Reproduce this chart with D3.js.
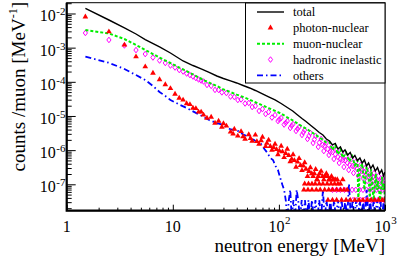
<!DOCTYPE html>
<html>
<head>
<meta charset="utf-8">
<title>neutron energy spectrum</title>
<script src="https://cdn.jsdelivr.net/npm/d3@7"></script>
<style>
  html, body { margin: 0; padding: 0; background: #fff; }
  svg { display: block; font-family: "Liberation Serif", "Times New Roman", serif; }
</style>
</head>
<body>
<svg id="chart"></svg>
<script>
// [neutron energy (MeV), counts/muon (MeV^-1)]
const total = [[1.5,1.42e-2],[2.5,6.45e-3],[3.5,3.77e-3],[4.5,2.51e-3],[5.5,1.73e-3],[7.5,1.05e-3],[9.5,6.98e-4],
  [12.5,4.07e-4],[15.5,3.0e-4],[18.5,2.38e-4],[22,1.88e-4],[26,1.48e-4],[30,1.25e-4],[35,1.06e-4],[40,9.25e-5],
  [46,7.8e-5],[53,6.6e-5],[60,5.57e-5],[70,4.4e-5],[80,3.6e-5],[92,2.94e-5],[105,2.32e-5],[120,1.77e-5],
  [135,1.4e-5],[150,1.07e-5],[165,8.45e-6],[180,6.9e-6],[200,5.27e-6],[220,4.16e-6],[240,3.29e-6],[260,2.78e-6],
  [280,2.12e-6],[300,1.85e-6],[320,1.42e-6],[340,1.57e-6],[360,1.08e-6],[380,1.24e-6],[400,8.8e-7],[420,1.01e-6],
  [445,7.2e-7],[470,8.55e-7],[495,5.9e-7],[520,6.98e-7],[550,4.98e-7],[580,5.9e-7],[610,4.2e-7],[640,5.15e-7],
  [670,3.44e-7],[700,4.2e-7],[735,2.9e-7],[770,3.67e-7],[810,2.45e-7],[850,3.1e-7],[890,2.07e-7],[930,2.62e-7],
  [970,1.75e-7],[999,2.29e-7]];

const photonNuclear = [[1.5,8.0e-3],[2.5,2.93e-3],[3.5,1.2e-3],[4.5,5.44e-4],[5.5,2.77e-4],[6.5,1.81e-4],[7.5,1.17e-4],
  [8.5,8.35e-5],[9.5,6.38e-5],[10.5,4.4e-5],[11.5,3.36e-5],[12.5,2.94e-5],[13.5,2.32e-5],[14.5,2.17e-5],[15.5,1.71e-5],
  [16.5,1.66e-5],[17.5,1.31e-5],[18.5,1.31e-5],[19.5,1.07e-5],
  [21,8.7e-6],[23,9.3e-6],[25,6.2e-6],[27,7.1e-6],[29,4.76e-6],[30,6.0e-6],[32,5.1e-6],[35,3.4e-6],[37,3.0e-6],
  [38,4.16e-6],[41,2.6e-6],[44,3.52e-6],[46,2.5e-6],[48,2.12e-6],[52,2.87e-6],[54,2.2e-6],[56,1.85e-6],[60,2.78e-6],
  [62,1.8e-6],[65,1.51e-6],[68,1.9e-6],[70,2.42e-6],[75,1.28e-6],[77,1.6e-6],[80,1.98e-6],[83,1.3e-6],[86,1.01e-6],
  [89,1.2e-6],[92,1.51e-6],[95,1.05e-6],[98,7.46e-7],[101,9.5e-7],[105,1.32e-6],[108,9.0e-7],[112,6.1e-7],
  [116,8.0e-7],[120,1.08e-6],[124,7.0e-7],[128,4.65e-7],[132,5.5e-7],[136,7.46e-7],[140,5.0e-7],[145,3.21e-7],
  [150,4.5e-7],[155,5.7e-7],[160,3.6e-7],[165,2.54e-7],[170,3.45e-7],[175,4.35e-7],[180,2.8e-7],[186,1.72e-7],
  [192,2.4e-7],[198,3.1e-7],[204,2.07e-7],[210,1.72e-7],[216,2.07e-7],[222,2.76e-7],[228,1.38e-7],[235,1.72e-7],
  [242,2.07e-7],[250,2.42e-7],[258,1.72e-7],[265,1.38e-7],[272,1.72e-7],[280,2.07e-7],[288,1.72e-7],[296,1.38e-7],
  [305,1.38e-7],[313,1.72e-7],[322,1.38e-7],[340,1.38e-7],
  [230,1.38e-7],[300,1.38e-7],[330,1.38e-7],[355,1.38e-7],[400,1.38e-7],
  [175,1.035e-7],[190,1.035e-7],[205,1.035e-7],[220,1.035e-7],[240,1.035e-7],[260,1.035e-7],[285,1.035e-7],
  [310,1.035e-7],[335,1.035e-7],[360,1.035e-7],[380,1.035e-7],
  [172,6.9e-8],[188,6.9e-8],[205,6.9e-8],[225,6.9e-8],[245,6.9e-8],[270,6.9e-8],[295,6.9e-8],[320,6.9e-8],
  [350,6.9e-8],[380,6.9e-8],[410,6.9e-8],[440,6.9e-8],
  [290,3.45e-8],[320,3.45e-8],[350,3.45e-8],[390,3.45e-8],[430,3.45e-8],[470,3.45e-8],[520,3.45e-8],[570,3.45e-8],
  [620,3.45e-8],[680,3.45e-8],[740,3.45e-8],[800,3.45e-8],[870,3.45e-8],[940,3.45e-8],[990,3.45e-8]];

const muonNuclear = [[1.5,3.29e-3],[2.5,2.6e-3],[3.5,1.79e-3],[4.5,1.2e-3],[5.5,8.55e-4],[6.5,6.5e-4],[7.5,5.15e-4],
  [8.5,4.2e-4],[9.5,3.56e-4],[11.5,2.62e-4],[13.5,2.07e-4],[15.5,1.64e-4],[17.5,1.34e-4],[20,1.09e-4],[23,8.9e-5],
  [26,7.55e-5],[30,6.0e-5],[35,5.0e-5],[40,4.23e-5],[46,3.6e-5],[53,3.0e-5],[60,2.52e-5],[70,2.04e-5],[80,1.7e-5],
  [92,1.41e-5],[105,1.17e-5],[120,9.1e-6],[135,7.4e-6],[150,6.0e-6],[165,5.0e-6],[180,4.28e-6],[200,3.47e-6],
  [220,2.85e-6],[240,2.36e-6],[260,2.0e-6],[280,1.67e-6],[300,1.73e-6],[320,9.97e-7],[340,1.38e-6],[360,7.5e-7],
  [380,1.07e-6],[400,6.0e-7],[430,8.4e-7],[460,4.6e-7],[490,6.6e-7],[520,3.58e-7],[550,5.1e-7],[560,3.45e-8],
  [580,2.83e-7],[610,4.04e-7],[640,6.9e-8],[670,3.28e-7],[700,1.87e-7],[720,3.45e-8],[740,2.76e-7],[780,3.45e-8],
  [820,2.06e-7],[840,6.9e-8],[860,1.25e-7],[900,3.45e-8],[940,1.69e-7],[960,6.9e-8],[980,1.04e-7],[999,3.45e-8]];

const hadronicInelastic = [[1.5,2.69e-3],[2.5,1.68e-3],[3.5,1.16e-3],[4.5,8.5e-4],[5.5,6.5e-4],[6.5,5.15e-4],
  [7.5,4.2e-4],[8.5,3.56e-4],[9.5,3.0e-4],[10.5,2.62e-4],[11.5,2.22e-4],[12.5,2.0e-4],[13.5,1.75e-4],[14.5,1.58e-4],
  [15.5,1.43e-4],[16.5,1.29e-4],[17.5,1.17e-4],[18.5,1.09e-4],[19.5,1.02e-4],
  [21,8.1e-5],[23,7.6e-5],[25,5.8e-5],[27,5.8e-5],[29,4.9e-5],[32,4.7e-5],[35,3.7e-5],[38,3.6e-5],[41,2.94e-5],
  [44,3.04e-5],[48,2.32e-5],[52,2.4e-5],[56,1.83e-5],[60,1.96e-5],[65,1.4e-5],[70,1.6e-5],[75,1.14e-5],[80,1.31e-5],
  [86,9.0e-6],[92,1.07e-5],[98,7.1e-6],[105,8.7e-6],[112,5.6e-6],[120,7.1e-6],[128,4.45e-6],[136,5.8e-6],
  [145,3.64e-6],[155,4.76e-6],[165,2.78e-6],[175,3.89e-6],[186,2.12e-6],[198,3.18e-6],[210,1.62e-6],[222,2.6e-6],
  [235,1.24e-6],[250,2.12e-6],[265,9.4e-7],[280,1.62e-6],[296,7.2e-7],[313,1.24e-6],[330,5.5e-7],[350,1.01e-6],
  [370,4.2e-7],[390,8.3e-7],[410,3.21e-7],[430,6.7e-7],[455,2.62e-7],[480,5.5e-7],[505,2.14e-7],[530,4.5e-7],
  [560,1.75e-7],[590,3.67e-7],[620,1.53e-7],[650,3.0e-7],[680,1.25e-7],[715,2.62e-7],[750,1.09e-7],[790,2.14e-7],
  [830,9.5e-8],[870,1.75e-7],[910,8.4e-8],[955,1.53e-7],[995,1.02e-7],
  [101,7.9e-6],[116,6.3e-6],[132,5.2e-6],[150,4.2e-6],[170,3.3e-6],[192,2.6e-6],[216,2.05e-6],[240,1.65e-6],
  [258,1.42e-6],[288,1.08e-6],[320,8.8e-7],[360,6.3e-7],[400,5.15e-7],[442,4.2e-7],[492,3.44e-7],[545,2.8e-7],
  [605,2.45e-7],[665,2.0e-7],[735,1.75e-7],[810,1.43e-7],[890,1.25e-7],[975,1.25e-7],
  [270,1.35e-6],[305,8.8e-7],[340,7.6e-7],[380,5.6e-7],[420,5.0e-7],[465,3.7e-7],[515,3.3e-7],[575,2.45e-7],
  [635,2.3e-7],[700,1.75e-7],[770,1.65e-7],[850,1.3e-7],[930,1.27e-7],
  [320,6.9e-8],[350,6.9e-8],[380,6.9e-8],[415,6.9e-8],[450,6.9e-8],[490,6.9e-8],[530,6.9e-8],[575,6.9e-8],
  [620,6.9e-8],[670,6.9e-8],[720,6.9e-8],[775,6.9e-8],[830,6.9e-8],[890,6.9e-8],[950,6.9e-8],[995,6.9e-8],
  [500,3.45e-8],[545,3.45e-8],[590,3.45e-8],[640,3.45e-8],[690,3.45e-8],[745,3.45e-8],[800,3.45e-8],[860,3.45e-8],
  [920,3.45e-8],[980,3.45e-8]];

// empty bins are kept at 1e-8, below the lower edge of the frame
const others = [[1.5,5.43e-4],[2.5,3.6e-4],[3.5,2.37e-4],[4.5,1.58e-4],[5.5,1.13e-4],[6.5,7.55e-5],[7.5,5.04e-5],
  [8.5,3.85e-5],[9.5,2.94e-5],[11.5,2.17e-5],[13.5,1.71e-5],[15.5,1.36e-5],[18.5,1.03e-5],[22,7.6e-6],[26,6.2e-6],
  [30,5.45e-6],[35,4.03e-6],[40,3.89e-6],[46,2.87e-6],[53,2.43e-6],[60,1.85e-6],[67,1.62e-6],[73,1.08e-6],
  [78,8.3e-7],[83,5.9e-7],[88,5.15e-7],[93,3.44e-7],[98,2.62e-7],[103,1.53e-7],[108,9.5e-8],[112,6.9e-8],
  [116,3.45e-8],[120,1e-8],[124,3.45e-8],[128,6.9e-8],[132,1e-8],[137,3.45e-8],[142,1e-8],[147,6.9e-8],
  [152,3.45e-8],[158,1e-8],[164,3.45e-8],[170,1e-8],[176,3.45e-8],[183,1e-8],[190,3.45e-8],[197,1e-8],
  [205,3.45e-8],[213,1e-8],[221,3.45e-8],[230,1e-8],[240,3.45e-8],[250,1e-8],[260,6.9e-8],[270,1e-8],
  [281,3.45e-8],[293,1e-8],[305,3.45e-8],[318,1e-8],[331,3.45e-8],[345,1e-8],[360,3.45e-8],[375,1e-8],
  [390,3.45e-8],[406,1e-8],[422,3.45e-8],[440,1e-8],[458,1.04e-7],[476,1e-8],[495,3.45e-8],[515,1e-8],
  [535,3.45e-8],[556,1e-8],[578,3.45e-8],[600,1e-8],[623,3.45e-8],[647,1e-8],[672,6.9e-8],[698,1e-8],
  [725,3.45e-8],[752,1e-8],[781,3.45e-8],[810,1e-8],[840,3.45e-8],[872,1e-8],[905,3.45e-8],[938,1e-8],
  [972,3.45e-8],[999,1e-8]];

const xTickValues = [1, 10, 100, 1000];
const xTickBase = ['1', '10', '10', '10'];
const xTickExp = ['', '', '2', '3'];
const yTickValues = [1e-2, 1e-3, 1e-4, 1e-5, 1e-6, 1e-7];
const yTickBase = ['10', '10', '10', '10', '10', '10'];
const yTickExp = ['-2', '-3', '-4', '-5', '-6', '-7'];
const legendNames = ['total', 'photon-nuclear', 'muon-nuclear', 'hadronic inelastic', 'others'];

class SpectrumChart {

  constructor(_config) {
    this.config = {
      parentElement: _config.parentElement,
      containerWidth: _config.containerWidth || 399,
      containerHeight: _config.containerHeight || 260,
      margin: _config.margin || {top: 2.7, right: 14, bottom: 49.3, left: 66.7}
    };
    this.initVis();
  }

  initVis() {
    let vis = this;
    const m = vis.config.margin;
    vis.width = vis.config.containerWidth - m.left - m.right;
    vis.height = vis.config.containerHeight - m.top - m.bottom;

    vis.svg = d3.select(vis.config.parentElement)
      .attr('width', vis.config.containerWidth)
      .attr('height', vis.config.containerHeight);

    vis.svg.append('defs').append('clipPath').attr('id', 'plot-clip')
      .append('rect').attr('width', vis.width).attr('height', vis.height);

    vis.chart = vis.svg.append('g')
      .attr('transform', `translate(${m.left},${m.top})`);

    vis.x = d3.scaleLog().domain([1, 1000]).range([0, vis.width]);
    vis.y = d3.scaleLog().domain([1.687e-8, 2.07e-2]).range([vis.height, 0]);

    vis.line = d3.line().x(d => vis.x(d[0])).y(d => vis.y(d[1]));
    vis.triangle = d3.symbol().type(d3.symbolTriangle).size(14)();
    vis.diamond = 'M0,-2.8L2.1,0L0,2.8L-2.1,0Z';

    // legend order; draw order is set separately below
    vis.series = [
      {name: legendNames[0], data: total, kind: 'line', color: '#000000', width: 1.4, dash: null},
      {name: legendNames[1], data: photonNuclear, kind: 'triangle', color: '#ff0000'},
      {name: legendNames[2], data: muonNuclear, kind: 'line', color: '#00ee00', width: 2, dash: '3,2'},
      {name: legendNames[3], data: hadronicInelastic, kind: 'diamond', color: '#ff00ff'},
      {name: legendNames[4], data: others, kind: 'line', color: '#0000ff', width: 1.8, dash: '6,3,1.5,3'}
    ];

    vis.renderVis();
  }

  renderVis() {
    let vis = this;
    const plot = vis.chart.append('g').attr('clip-path', 'url(#plot-clip)');

    [3, 2, 4, 1, 0].forEach(i => {
      const s = vis.series[i];
      if (s.kind === 'line') {
        plot.append('path').datum(s.data)
          .attr('d', vis.line)
          .attr('fill', 'none')
          .attr('stroke', s.color)
          .attr('stroke-width', s.width)
          .attr('stroke-dasharray', s.dash);
      } else {
        plot.append('g').selectAll('path').data(s.data).join('path')
          .attr('transform', d => `translate(${vis.x(d[0])},${vis.y(d[1])})`)
          .attr('d', s.kind === 'triangle' ? vis.triangle : vis.diamond)
          .attr('fill', s.kind === 'triangle' ? s.color : 'none')
          .attr('stroke', s.kind === 'triangle' ? 'none' : s.color)
          .attr('stroke-width', 1);
      }
    });

    // minor tick positions
    vis.xMinor = [];
    [1, 10, 100].forEach(d => { for (let k = 2; k <= 9; k++) vis.xMinor.push(k * d); });
    vis.yMinor = [];
    [1e-8, 1e-7, 1e-6, 1e-5, 1e-4, 1e-3, 1e-2].forEach(d => {
      for (let k = 2; k <= 9; k++) {
        const v = k * d;
        if (v > vis.y.domain()[0] && v < vis.y.domain()[1]) vis.yMinor.push(v);
      }
    });

    const tickAxis = (axis, values, size, translate) => {
      vis.chart.append('g')
        .attr('transform', translate)
        .call(axis.tickValues(values).tickSize(size).tickFormat(''))
        .call(g => g.select('.domain').remove())
        .call(g => g.selectAll('line').attr('stroke', '#000').attr('stroke-width', 1));
    };
    tickAxis(d3.axisBottom(vis.x), xTickValues, -6, `translate(0,${vis.height})`);
    tickAxis(d3.axisBottom(vis.x), vis.xMinor, -3, `translate(0,${vis.height})`);
    tickAxis(d3.axisLeft(vis.y), yTickValues, -9, null);
    tickAxis(d3.axisLeft(vis.y), vis.yMinor, -5, null);

    // frame
    vis.chart.append('rect')
      .attr('width', vis.width).attr('height', vis.height)
      .attr('fill', 'none').attr('stroke', '#000').attr('stroke-width', 1);
    vis.chart.append('path')
      .attr('d', `M0,0V${vis.height}H${vis.width}`)
      .attr('fill', 'none').attr('stroke', '#000').attr('stroke-width', 2.2);

    // tick labels: base and exponent as separate texts
    xTickValues.forEach((v, i) => {
      const cx = vis.x(v);
      const ty = vis.height + 21.5;
      if (!xTickExp[i]) {
        vis.chart.append('text')
          .attr('x', cx).attr('y', ty)
          .attr('text-anchor', 'middle').attr('font-size', 16)
          .text(xTickBase[i]);
      } else {
        vis.chart.append('text')
          .attr('x', cx + 5.5).attr('y', ty)
          .attr('text-anchor', 'end').attr('font-size', 16)
          .text(xTickBase[i]);
        vis.chart.append('text')
          .attr('x', cx + 6.2).attr('y', ty - 8)
          .attr('text-anchor', 'start').attr('font-size', 11)
          .text(xTickExp[i]);
      }
    });
    yTickValues.forEach((v, i) => {
      const ty = vis.y(v);
      vis.chart.append('text')
        .attr('x', -11).attr('y', ty + 8)
        .attr('text-anchor', 'end').attr('font-size', 16)
        .text(yTickBase[i]);
      vis.chart.append('text')
        .attr('x', -1.2).attr('y', ty + 2)
        .attr('text-anchor', 'end').attr('font-size', 11)
        .text(yTickExp[i]);
    });

    // axis titles
    vis.chart.append('text')
      .attr('x', vis.width)
      .attr('y', vis.height + 41.8)
      .attr('text-anchor', 'end')
      .attr('font-size', 19)
      .text('neutron energy [MeV]');

    const yTitle = vis.chart.append('text')
      .attr('transform', 'translate(-41.2,-0.7) rotate(-90)')
      .attr('text-anchor', 'end')
      .attr('font-size', 19);
    yTitle.append('tspan').text('counts /muon [MeV');
    yTitle.append('tspan').attr('font-size', 12).attr('dy', -8).text('-1');
    yTitle.append('tspan').attr('dy', 8).text(']');

    // legend
    const lg = vis.chart.append('g').attr('transform', 'translate(178.8,0.3)');
    lg.append('rect')
      .attr('width', 139.5).attr('height', 80)
      .attr('fill', '#fff').attr('stroke', '#000').attr('stroke-width', 1);

    vis.series.forEach((s, i) => {
      const cy = 9 + i * 15.85;
      if (s.kind === 'line') {
        lg.append('line')
          .attr('x1', 11.5).attr('x2', 38.5).attr('y1', cy).attr('y2', cy)
          .attr('stroke', s.color).attr('stroke-width', s.width)
          .attr('stroke-dasharray', s.dash);
      } else {
        lg.append('path')
          .attr('transform', `translate(25,${cy})`)
          .attr('d', s.kind === 'triangle' ? vis.triangle : vis.diamond)
          .attr('fill', s.kind === 'triangle' ? s.color : 'none')
          .attr('stroke', s.kind === 'triangle' ? 'none' : s.color);
      }
      lg.append('text')
        .attr('x', 47.5)
        .attr('y', cy + 4.3)
        .attr('font-size', 12.5)
        .text(s.name);
    });
  }
}

new SpectrumChart({parentElement: '#chart'});
</script>
</body>
</html>
